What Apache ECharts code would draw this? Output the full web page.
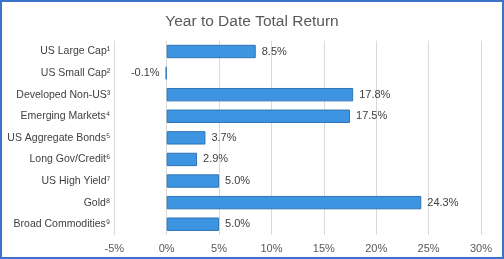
<!DOCTYPE html>
<html><head><meta charset="utf-8">
<script src="https://cdn.jsdelivr.net/npm/echarts@6/dist/echarts.min.js"></script>
<style>html,body{margin:0;padding:0;background:#fff}#c{width:504px;height:259px}</style>
</head><body><div id="c"></div>
<script>
const categories = ['US Large Cap¹','US Small Cap²','Developed Non-US³','Emerging Markets⁴','US Aggregate Bonds⁵','Long Gov/Credit⁶','US High Yield⁷','Gold⁸','Broad Commodities⁹'];
const values = [8.5, -0.1, 17.8, 17.5, 3.7, 2.9, 5.0, 24.3, 5.0];
const xTicks = {min: -5, max: 30, interval: 5};

const chart = echarts.init(document.getElementById('c'), null, {renderer: 'canvas'});
chart.setOption({
  animation: false,
  backgroundColor: '#fff',
  textStyle: {fontFamily: 'Liberation Sans, Arial, sans-serif'},
  title: {
    text: 'Year to Date Total Return', left: 'center', top: 9,
    textStyle: {fontSize: 15.5, fontWeight: 'normal', color: '#595959', fontFamily: 'Liberation Sans, Arial, sans-serif'}
  },
  graphic: [{type: 'rect', shape: {x: 1, y: 1, width: 502, height: 257}, style: {fill: 'none', stroke: '#3A73C9', lineWidth: 2}, z: 100}],
  grid: {left: 114.3, right: 23, top: 40.7, bottom: 24, containLabel: false},
  xAxis: {
    type: 'value', min: xTicks.min, max: xTicks.max, interval: xTicks.interval,
    axisLabel: {formatter: '{value}%', color: '#595959', fontSize: 11, margin: 8},
    splitLine: {lineStyle: {color: '#D9D9D9', width: 1}},
    axisLine: {show: false}, axisTick: {show: false}
  },
  yAxis: {
    type: 'category', data: categories, inverse: true,
    axisLabel: {color: '#404040', fontSize: 10.5, margin: 4},
    axisLine: {show: false}, axisTick: {show: false}
  },
  series: [{
    type: 'bar', barCategoryGap: '38%',
    data: values.map(v => ({value: v, label: {position: v < 0 ? 'left' : 'right'}})),
    itemStyle: {color: '#3D94E0', borderColor: '#2F74B5', borderWidth: 1},
    label: {show: true, distance: 6, color: '#404040', fontSize: 11, formatter: p => p.value.toFixed(1) + '%'}
  }]
});
</script></body></html>
